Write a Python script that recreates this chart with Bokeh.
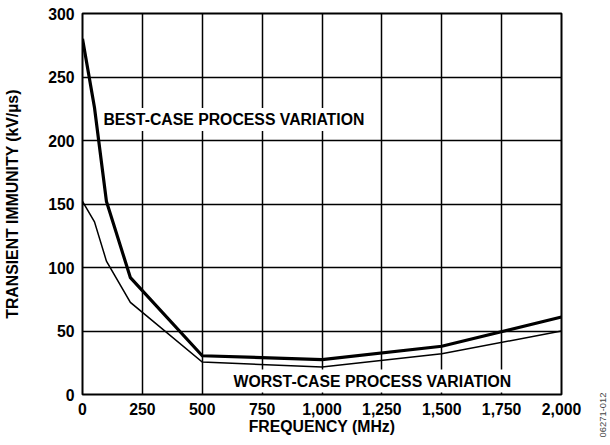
from bokeh.plotting import figure
from bokeh.models import Range1d, FixedTicker, NumeralTickFormatter, Label
from bokeh.layouts import row
from bokeh.embed import file_html
from bokeh.resources import INLINE
import math

# Data
freq = [0, 50, 100, 200, 500, 1000, 1500, 2000]
best_case = [280, 226, 152, 92, 30.5, 27.5, 38, 61]
worst_case = [152, 136, 105, 72.5, 25.5, 21.7, 32, 50]
x_ticks = [0, 250, 500, 750, 1000, 1250, 1500, 1750, 2000]
y_ticks = [0, 50, 100, 150, 200, 250, 300]

FONT = "Liberation Sans"
FS = "15.8px"
H = 437

fig = figure(width=582, height=H, output_backend="svg", toolbar_location=None,
             x_range=Range1d(0, 2000), y_range=Range1d(0, 300),
             min_border_left=82, min_border_right=21, min_border_top=13, min_border_bottom=41)
fig.background_fill_color = "white"
fig.border_fill_color = "white"
fig.outline_line_color = "black"
fig.outline_line_width = 2

fig.xaxis.ticker = FixedTicker(ticks=x_ticks)
fig.yaxis.ticker = FixedTicker(ticks=y_ticks)
fig.xaxis.formatter = NumeralTickFormatter(format="0,0")

for ax in (fig.xaxis, fig.yaxis):
    ax.axis_line_color = None
    ax.major_tick_line_color = None
    ax.minor_tick_line_color = None
    ax.major_tick_out = 0
    ax.major_tick_in = 0
    ax.major_label_text_font = FONT
    ax.major_label_text_font_style = "bold"
    ax.major_label_text_font_size = FS
    ax.major_label_text_color = "black"
    ax.axis_label_text_font = FONT
    ax.axis_label_text_font_style = "bold"
    ax.axis_label_text_font_size = FS
    ax.axis_label_text_color = "black"

fig.xaxis.axis_label = "FREQUENCY (MHz)"
fig.yaxis.axis_label = "TRANSIENT IMMUNITY (kV/µs)"
fig.xaxis.major_label_standoff = 8
fig.xaxis.axis_label_standoff = 0
fig.yaxis.major_label_standoff = 8
fig.yaxis.axis_label_standoff = 24

fig.xgrid.ticker = FixedTicker(ticks=x_ticks)
fig.ygrid.ticker = FixedTicker(ticks=y_ticks)
for g in (fig.xgrid, fig.ygrid):
    g.grid_line_color = "black"
    g.grid_line_width = 1.5
    g.grid_line_alpha = 1.0

fig.line(freq, worst_case, line_color="black", line_width=1.5, line_join="miter")
fig.line(freq, best_case, line_color="black", line_width=3.2, line_join="miter")

fig.add_layout(Label(x=632, y=216.6, text="BEST-CASE PROCESS VARIATION",
                     text_font=FONT, text_font_style="bold", text_font_size=FS,
                     text_color="black", text_align="center", text_baseline="middle",
                     background_fill_color="white", padding=3))
fig.add_layout(Label(x=1210, y=10.6, text="WORST-CASE PROCESS VARIATION",
                     text_font=FONT, text_font_style="bold", text_font_size=FS,
                     text_color="black", text_align="center", text_baseline="middle",
                     background_fill_color="white", padding=3))

# narrow side strip carrying the figure code, read bottom to top
side = figure(width=26, height=H, output_backend="svg", toolbar_location=None,
              x_range=Range1d(0, 1), y_range=Range1d(0, 1),
              x_axis_type=None, y_axis_type=None,
              min_border_left=0, min_border_right=0, min_border_top=0, min_border_bottom=0)
side.outline_line_color = None
side.background_fill_color = "white"
side.border_fill_color = "white"
side.grid.visible = False
frame_free = True
try:
    side.frame_align = False
except Exception:
    frame_free = False
code_y = 22.5 if frame_free else -18.5
side.add_layout(Label(x=20, y=code_y if frame_free else 22.5, x_units="screen", y_units="screen",
                      text="06271-012",
                      angle=math.pi / 2, text_font=FONT, text_font_size="9.4px",
                      text_color="#444444", text_align="center", text_baseline="middle"))

p = row(fig, side)
open("out.html", "w").write(file_html(p, INLINE))
